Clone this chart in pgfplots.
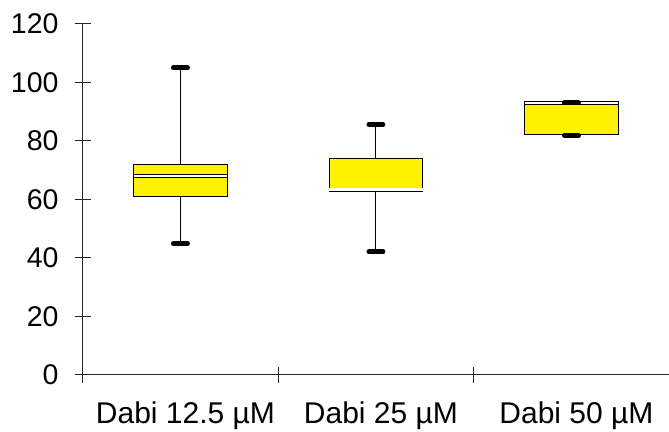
\documentclass[border=0pt]{standalone}
\usepackage{fontspec}
\setmainfont{Liberation Sans}
\usepackage{pgfplots}
\pgfplotsset{compat=1.18}
\usepgfplotslibrary{statistics}
\begin{document}
\begin{tikzpicture}
\begin{axis}[
  scale only axis, width=586.5pt, height=351pt,
  xmin=0.5, xmax=3.5, ymin=0, ymax=120,
  axis lines*=left,
  axis line style={line width=0.9pt, black!85},
  clip=false,
  /pgf/number format/assume math mode=true,
  ytick={0,20,...,120},
  xtick={1,2,3},
  xticklabels={Dabi 12.5 µM, Dabi 25 µM, Dabi 50 µM},
  minor xtick={0.5,1.5,2.5,3.5},
  tick align=center,
  major tick length=16pt, minor tick length=16pt,
  tick style={line width=0.9pt, black!85},
  major x tick style={draw=none},
  yticklabel style={font=\fontsize{28.5}{32}\selectfont, anchor=east, inner sep=0pt, xshift=-16pt},
  xticklabel style={font=\fontsize{30}{34}\selectfont, anchor=north, inner sep=0pt, yshift=-19pt, xshift=5pt},
  boxplot/draw direction=y,
  boxplot/every whisker/.style={line width=1pt, black},
  boxplot/every median/.style={draw=black, line width=0.9pt, double=white, double distance=2.2pt},
  boxplot/every box/.style={draw=black, line width=0.8pt, fill=yellow},
]
\addplot[boxplot prepared={draw position=1, lower whisker=44.8, lower quartile=60.9, median=67.85, upper quartile=72.0, upper whisker=104.9, box extend=0.477, whisker extend=0}] coordinates {};
\addplot[boxplot prepared={draw position=2, lower whisker=42.05, lower quartile=62.8, median=63.3, upper quartile=73.85, upper whisker=85.5, box extend=0.477, whisker extend=0}] coordinates {};
\addplot[boxplot prepared={draw position=3, lower whisker=81.7, lower quartile=82.3, median=92.9, upper quartile=93.3, upper whisker=92.9, box extend=0.477, whisker extend=0}] coordinates {};
\addplot[only marks, mark=-, mark size=7pt, mark options={line width=5pt, line cap=round, black}] coordinates {(1,104.9) (1,44.8) (2,85.5) (2,42.05) (3,92.9) (3,81.7)};
\end{axis}
\pgfresetboundingbox
\path[use as bounding box] (-82.7pt,-56.3pt) rectangle (586.3pt,374.7pt);
\end{tikzpicture}
\end{document}
